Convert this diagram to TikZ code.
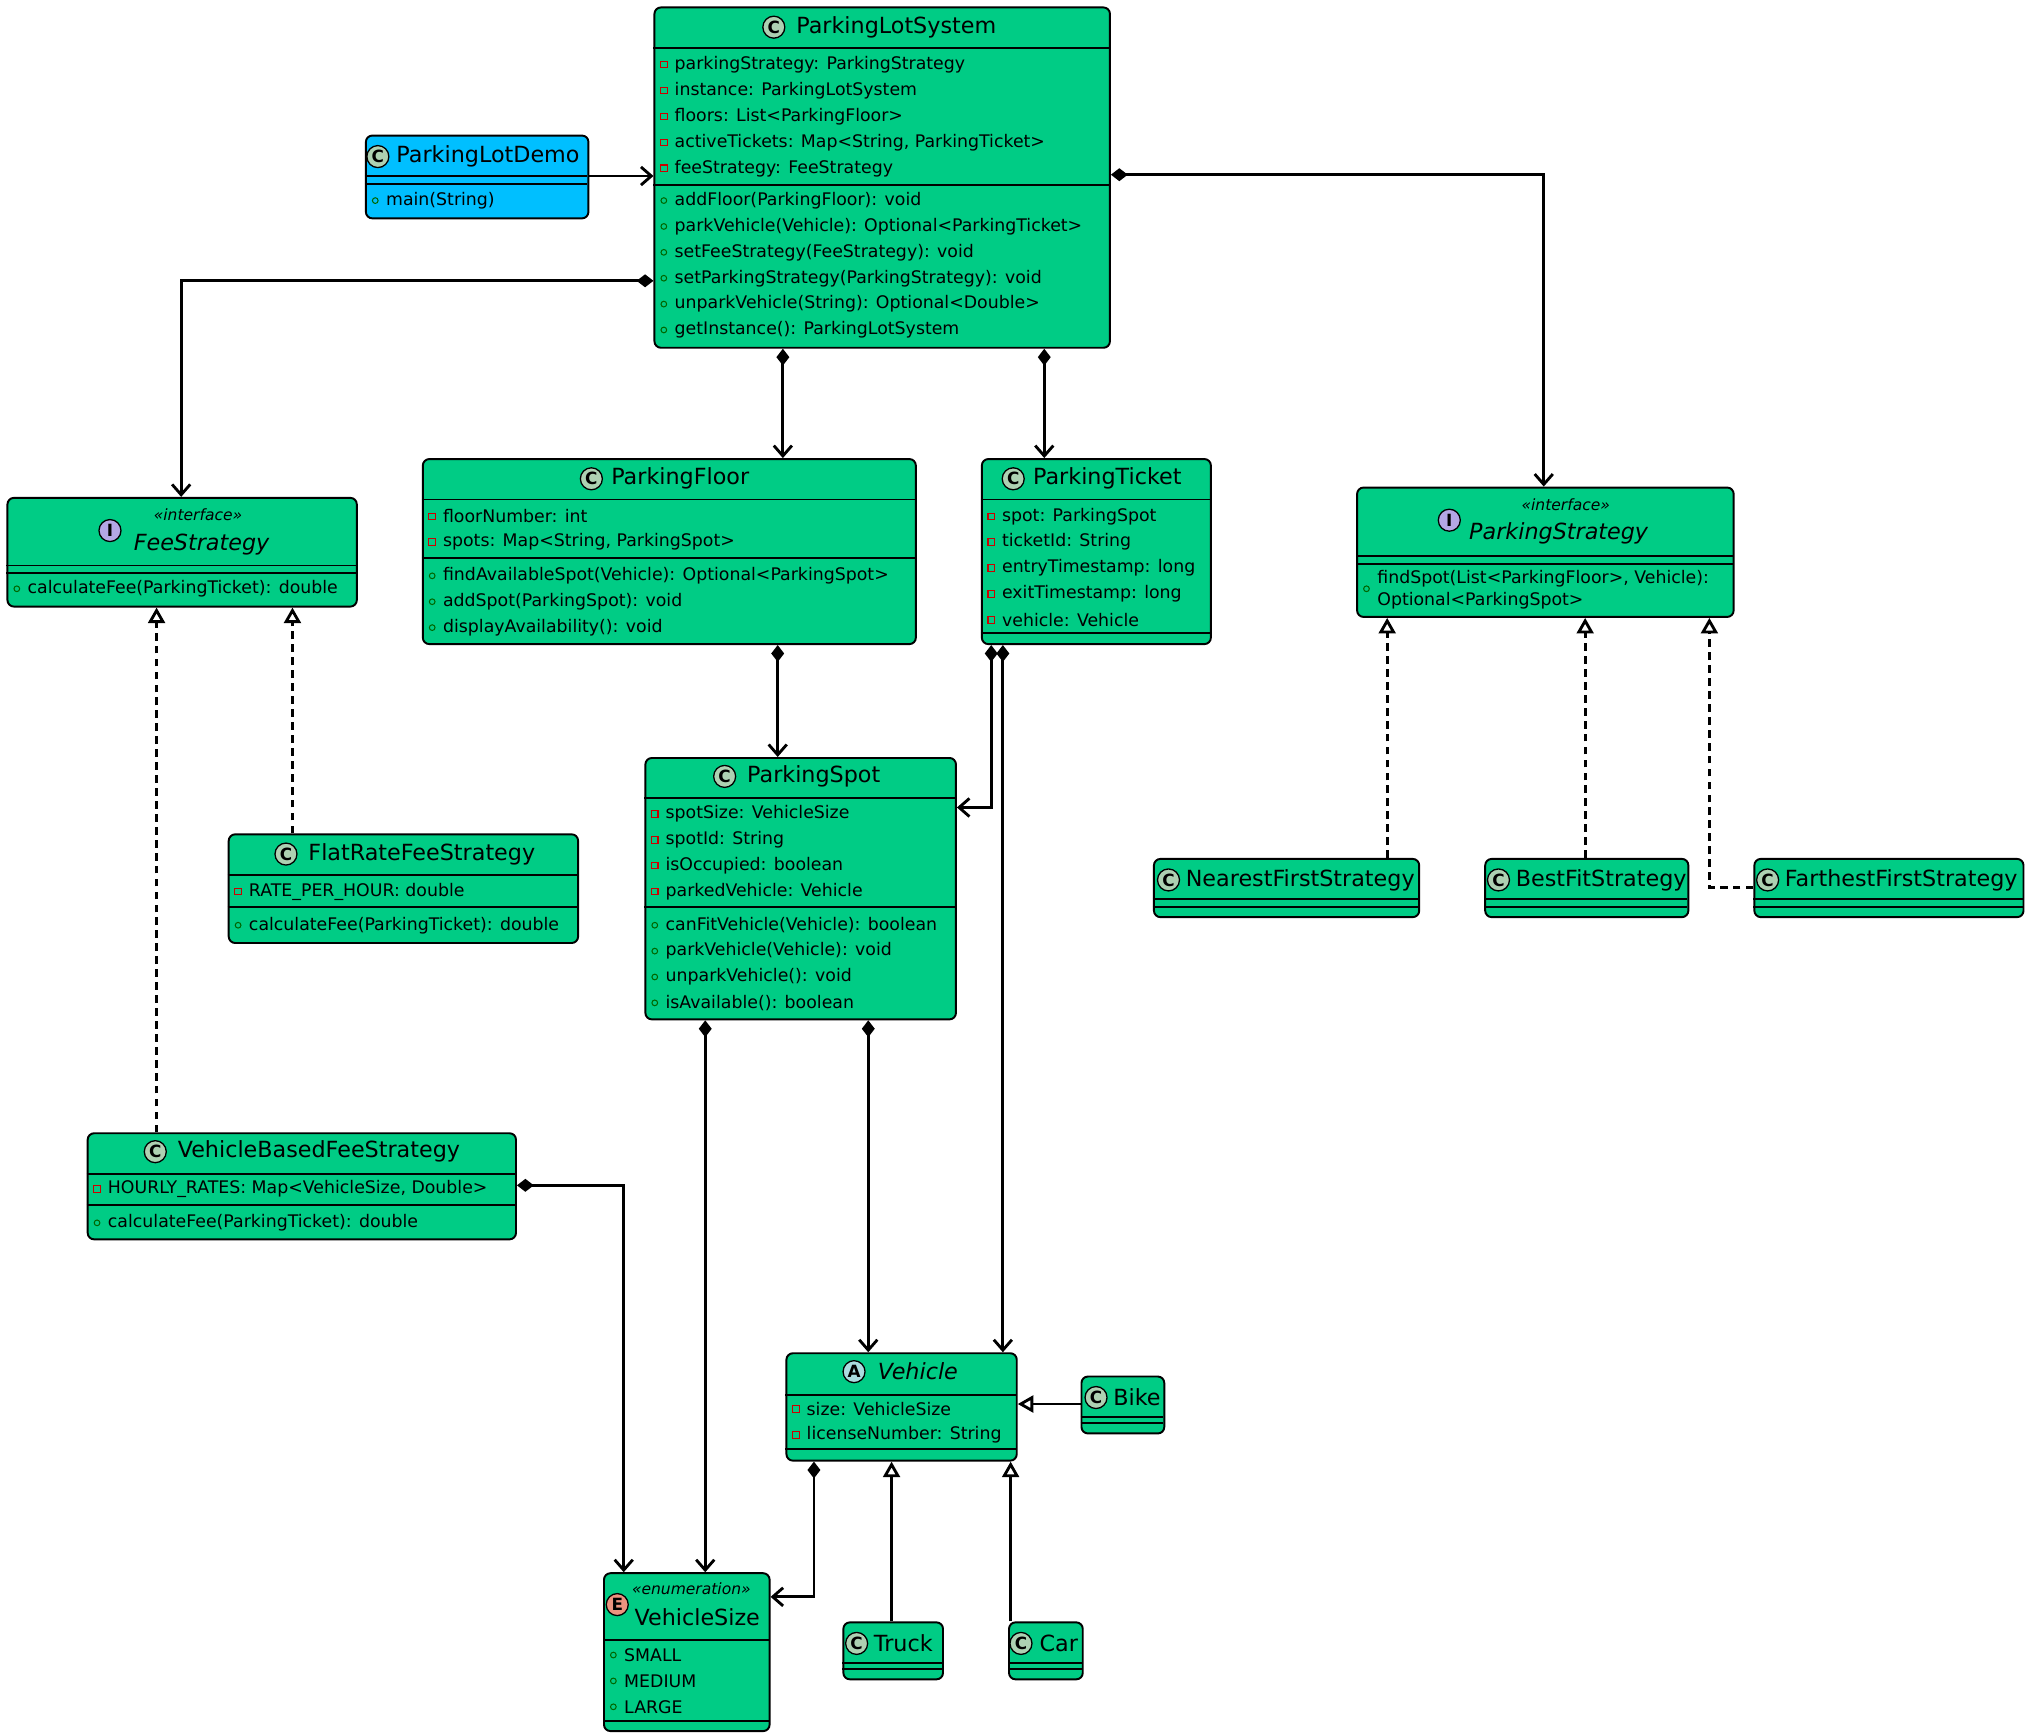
\documentclass[tikz,border=0pt]{standalone}
\usepackage{fontspec}
\setmainfont{DejaVu Sans}
\usetikzlibrary{arrows.meta}
\definecolor{cg}{HTML}{00CC85}
\definecolor{cb}{HTML}{00BFFF}
\definecolor{icC}{HTML}{ADD1B2}
\definecolor{icI}{HTML}{B4A7E5}
\definecolor{icA}{HTML}{A9DCDF}
\definecolor{icE}{HTML}{EB937F}
\tikzset{
 boxstyle/.style={draw=black, line width=0.75pt, rounded corners=2.5pt, inner sep=0},
 sepline/.style={line width=0.75pt},
 member/.style={anchor=west, inner sep=0, font=\fontsize{6.7}{7}\selectfont},
 ttl/.style={anchor=west, inner sep=0, font=\fontsize{8.6}{9}\selectfont},
 ster/.style={inner sep=0, font=\itshape\fontsize{6}{7}\selectfont},
 conn/.style={line width=1.1pt},
 comp/.style={conn, {Diamond[length=6.5pt,width=5pt]}-{Straight Barb[length=4pt,width=7pt]}},
 assoc/.style={conn, -{Straight Barb[length=4pt,width=7pt]}},
 inh/.style={conn, -{Triangle[open,length=6pt,width=6.5pt,fill=white]}},
 real/.style={inh, dashed, dash pattern=on 3pt off 2pt},
}
\newcommand\umlbox[6]{%
 \pgfmathsetmacro\bw{(#4-#2)*0.5}\pgfmathsetmacro\bh{(#5-#3)*0.5}%
 \node[boxstyle, fill=#6, minimum width=\bw pt, minimum height=\bh pt, anchor=north west] (#1) at (#2,#3) {};}
\newcommand\sepl[3]{\draw[sepline] (#1,#3) -- (#2,#3);}
\newcommand\priv[3]{\draw[red!80!black, line width=0.4pt] (#1-2.5,#2-2.5) rectangle (#1+2.5,#2+2.5);
 \node[member] at (#1+8,#2) {#3};}
\newcommand\pub[3]{\draw[green!40!black, line width=0.4pt] (#1,#2) circle (2.2);
 \node[member] at (#1+8,#2) {#3};}
\newcommand\icon[4]{\draw[fill=#4, line width=0.5pt] (#1,#2) circle (8.5);
 \node[inner sep=0, font=\bfseries\fontsize{6.5}{7}\selectfont] at (#1,#2) {#3};}
\begin{document}
\begin{tikzpicture}[x=0.5pt,y=-0.5pt]
\useasboundingbox[fill=white] (0,0) rectangle (1568,1340);

% ParkingLotSystem
\umlbox{pls}{505}{5}{857}{268}{cg}
\sepl{505}{857}{37}\sepl{505}{857}{143}
\icon{598}{21}{C}{icC}\node[ttl] at (615,21) {ParkingLotSystem};
\priv{513}{50}{parkingStrategy: ParkingStrategy}
\priv{513}{70}{instance: ParkingLotSystem}
\priv{513}{90}{floors: List<ParkingFloor>}
\priv{513}{110}{activeTickets: Map<String, ParkingTicket>}
\priv{513}{130}{feeStrategy: FeeStrategy}
\pub{513}{155}{addFloor(ParkingFloor): void}
\pub{513}{175}{parkVehicle(Vehicle): Optional<ParkingTicket>}
\pub{513}{195}{setFeeStrategy(FeeStrategy): void}
\pub{513}{215}{setParkingStrategy(ParkingStrategy): void}
\pub{513}{235}{unparkVehicle(String): Optional<Double>}
\pub{513}{255}{getInstance(): ParkingLotSystem}

% ParkingLotDemo
\umlbox{demo}{282}{104}{454}{168}{cb}
\sepl{282}{454}{136}\sepl{282}{454}{142}
\icon{292}{121}{C}{icC}\node[ttl] at (306,121) {ParkingLotDemo};
\pub{290}{155}{main(String)}

% FeeStrategy
\umlbox{fee}{5}{384}{275}{468}{cg}
\sepl{5}{275}{437}\sepl{5}{275}{443}
\icon{85}{410}{I}{icI}
\node[ster] at (153,398) {«interface»};
\node[ttl, font=\itshape\fontsize{8.6}{9}\selectfont] at (103,421) {FeeStrategy};
\pub{13}{455}{calculateFee(ParkingTicket): double}

% ParkingFloor
\umlbox{floor}{326}{354}{707}{497}{cg}
\sepl{326}{707}{386}\sepl{326}{707}{431}
\icon{457}{370}{C}{icC}\node[ttl] at (472,370) {ParkingFloor};
\priv{334}{399}{floorNumber: int}
\priv{334}{419}{spots: Map<String, ParkingSpot>}
\pub{334}{445}{findAvailableSpot(Vehicle): Optional<ParkingSpot>}
\pub{334}{465}{addSpot(ParkingSpot): void}
\pub{334}{485}{displayAvailability(): void}

% ParkingTicket
\umlbox{ticket}{758}{354}{935}{497}{cg}
\sepl{758}{935}{386}\sepl{758}{935}{489}
\icon{783}{370}{C}{icC}\node[ttl] at (798,370) {ParkingTicket};
\priv{766}{399}{spot: ParkingSpot}
\priv{766}{419}{ticketId: String}
\priv{766}{439}{entryTimestamp: long}
\priv{766}{459}{exitTimestamp: long}
\priv{766}{479}{vehicle: Vehicle}

% ParkingStrategy
\umlbox{pstrat}{1048}{376}{1339}{476}{cg}
\sepl{1048}{1339}{430}\sepl{1048}{1339}{436}
\icon{1120}{402}{I}{icI}
\node[ster] at (1210,390) {«interface»};
\node[ttl, font=\itshape\fontsize{8.6}{9}\selectfont] at (1135,412) {ParkingStrategy};
\pub{1056}{455}{}
\node[member] at (1064,447) {findSpot(List<ParkingFloor>, Vehicle):};
\node[member] at (1064,464) {Optional<ParkingSpot>};

% FlatRateFeeStrategy
\umlbox{flat}{176}{644}{446}{728}{cg}
\sepl{176}{446}{676}\sepl{176}{446}{701}
\icon{221}{660}{C}{icC}\node[ttl] at (238,660) {FlatRateFeeStrategy};
\priv{184}{689}{RATE\_PER\_HOUR: double}
\pub{184}{715}{calculateFee(ParkingTicket): double}

% ParkingSpot
\umlbox{spot}{498}{585}{738}{787}{cg}
\sepl{498}{738}{617}\sepl{498}{738}{701}
\icon{560}{600}{C}{icC}\node[ttl] at (577,600) {ParkingSpot};
\priv{506}{629}{spotSize: VehicleSize}
\priv{506}{649}{spotId: String}
\priv{506}{669}{isOccupied: boolean}
\priv{506}{689}{parkedVehicle: Vehicle}
\pub{506}{715}{canFitVehicle(Vehicle): boolean}
\pub{506}{735}{parkVehicle(Vehicle): void}
\pub{506}{755}{unparkVehicle(): void}
\pub{506}{775}{isAvailable(): boolean}

% Strategies
\umlbox{nearest}{891}{663}{1096}{708}{cg}
\sepl{891}{1096}{695}\sepl{891}{1096}{701}
\icon{903}{680}{C}{icC}\node[ttl] at (916,680) {NearestFirstStrategy};
\umlbox{best}{1147}{663}{1304}{708}{cg}
\sepl{1147}{1304}{695}\sepl{1147}{1304}{701}
\icon{1158}{680}{C}{icC}\node[ttl] at (1171,680) {BestFitStrategy};
\umlbox{far}{1355}{663}{1563}{708}{cg}
\sepl{1355}{1563}{695}\sepl{1355}{1563}{701}
\icon{1366}{680}{C}{icC}\node[ttl] at (1379,680) {FarthestFirstStrategy};

% VehicleBasedFeeStrategy
\umlbox{vbased}{67}{875}{398}{957}{cg}
\sepl{67}{398}{907}\sepl{67}{398}{931}
\icon{120}{890}{C}{icC}\node[ttl] at (137,890) {VehicleBasedFeeStrategy};
\priv{75}{919}{HOURLY\_RATES: Map<VehicleSize, Double>}
\pub{75}{945}{calculateFee(ParkingTicket): double}

% Vehicle
\umlbox{veh}{607}{1045}{785}{1128}{cg}
\sepl{607}{785}{1078}\sepl{607}{785}{1120}
\icon{660}{1060}{A}{icA}
\node[ttl, font=\itshape\fontsize{8.6}{9}\selectfont] at (678,1060) {Vehicle};
\priv{615}{1089}{size: VehicleSize}
\priv{615}{1109}{licenseNumber: String}

% Bike, Truck, Car
\umlbox{bike}{835}{1063}{899}{1107}{cg}
\sepl{835}{899}{1095}\sepl{835}{899}{1100}
\icon{847}{1080}{C}{icC}\node[ttl] at (860,1080) {Bike};
\umlbox{truck}{651}{1253}{728}{1297}{cg}
\sepl{651}{728}{1285}\sepl{651}{728}{1290}
\icon{662}{1270}{C}{icC}\node[ttl] at (675,1270) {Truck};
\umlbox{car}{779}{1253}{836}{1297}{cg}
\sepl{779}{836}{1285}\sepl{779}{836}{1290}
\icon{789}{1270}{C}{icC}\node[ttl] at (803,1270) {Car};

% VehicleSize
\umlbox{vsize}{466}{1215}{594}{1337}{cg}
\sepl{466}{594}{1267}\sepl{466}{594}{1330}
\icon{477}{1240}{E}{icE}
\node[ster, anchor=west] at (488,1228) {«enumeration»};
\node[ttl] at (490,1250) {VehicleSize};
\pub{474}{1279}{SMALL}
\pub{474}{1299}{MEDIUM}
\pub{474}{1319}{LARGE}

% Connectors
\draw[assoc] (demo.east |- 0,136) -- (pls.west |- 0,136);
\draw[comp] (pls.west |- 0,217) -| (fee.north -| 140,0);
\draw[comp] (pls.east |- 0,135) -| (pstrat.north -| 1193,0);
\draw[comp] (pls.south -| 605,0) -- (floor.north -| 605,0);
\draw[comp] (pls.south -| 807,0) -- (ticket.north -| 807,0);
\draw[comp] (floor.south -| 601,0) -- (spot.north -| 601,0);
\draw[comp] (ticket.south -| 766,0) |- (spot.east |- 0,624);
\draw[comp] (ticket.south -| 775,0) -- (veh.north -| 775,0);
\draw[comp] (spot.south -| 545,0) -- (vsize.north -| 545,0);
\draw[comp] (spot.south -| 671,0) -- (veh.north -| 671,0);
\draw[comp] (vbased.east |- 0,916) -| (vsize.north -| 482,0);
\draw[comp] (veh.south -| 629,0) |- (vsize.east |- 0,1234);
\draw[inh] (bike.west |- 0,1085) -- (veh.east |- 0,1085);
\draw[inh] (truck.north -| 689,0) -- (veh.south -| 689,0);
\draw[inh] (car.north -| 781,0) -- (veh.south -| 781,0);
\draw[real] (vbased.north -| 121,0) -- (fee.south -| 121,0);
\draw[real] (flat.north -| 226,0) -- (fee.south -| 226,0);
\draw[real] (nearest.north -| 1072,0) -- (pstrat.south -| 1072,0);
\draw[real] (best.north -| 1225,0) -- (pstrat.south -| 1225,0);
\draw[real] (far.west |- 0,686) -| (pstrat.south -| 1321,0);
\end{tikzpicture}
\end{document}
